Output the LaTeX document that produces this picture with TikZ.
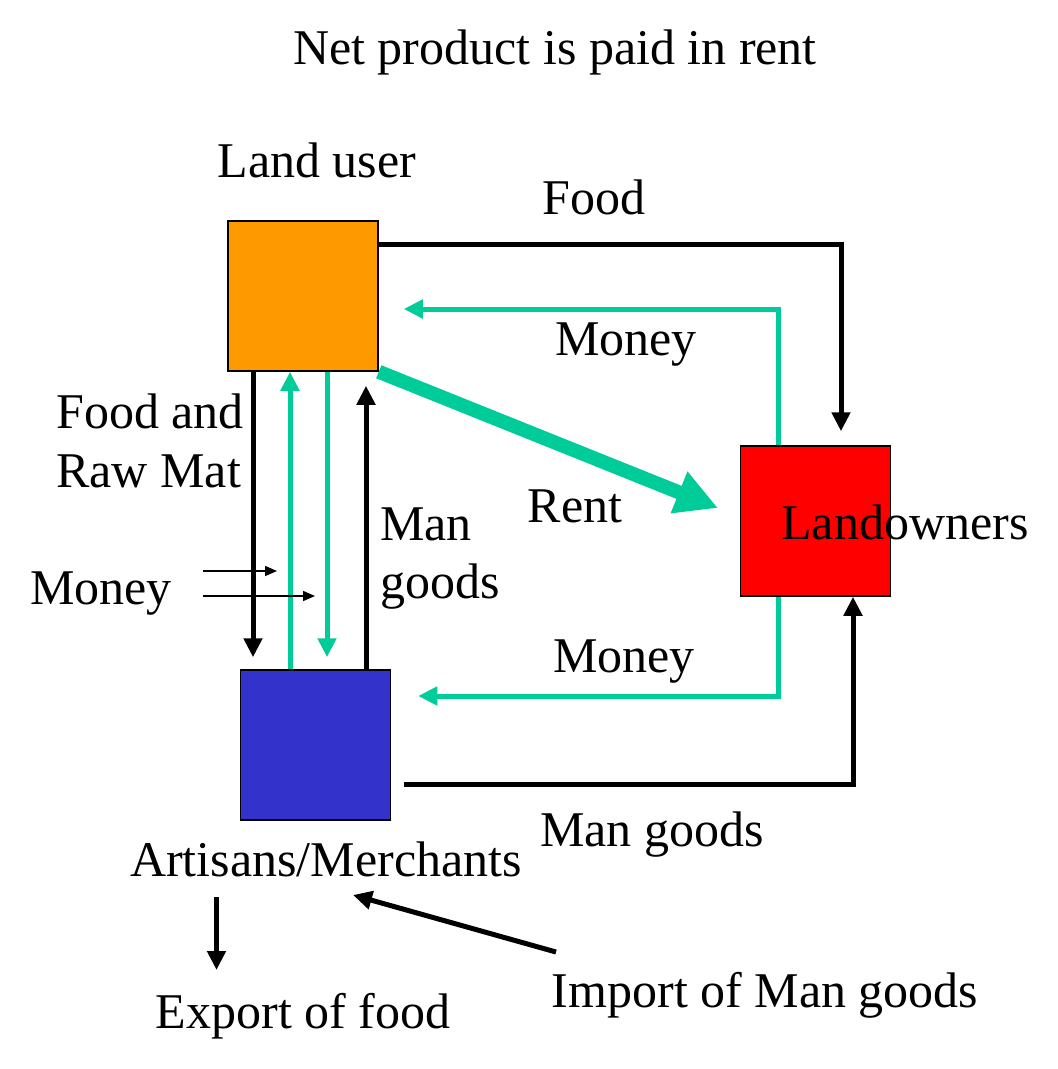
\documentclass[tikz,border=0pt]{standalone}
\usepackage{fontspec}
\setmainfont{Liberation Serif}
\usetikzlibrary{arrows.meta}
\definecolor{flowgreen}{RGB}{0,204,153}
\definecolor{boxorange}{RGB}{255,153,0}
\definecolor{boxred}{RGB}{255,0,0}
\definecolor{boxblue}{RGB}{51,51,204}
\begin{document}
\begin{tikzpicture}[x=1pt,y=-1pt,
  lbl/.style={font=\fontsize{50}{60}\selectfont, inner sep=0pt, anchor=base},
  sq/.style={draw=black, line width=1.5pt, minimum width=150pt, minimum height=150pt, inner sep=0pt},
  blk/.style={draw=black, line width=5pt, -{Triangle[width=18pt,length=19pt]}},
  grn/.style={draw=flowgreen, line width=5pt, -{Triangle[width=18pt,length=19pt]}},
  thin/.style={draw=black, line width=1.5pt, -{Triangle[width=10pt,length=12pt]}},
  rentarrow/.style={draw=flowgreen, line width=14pt, -{Triangle[width=42pt,length=42pt]}}
]
\useasboundingbox (0,0) rectangle (1058,1069);
\fill[white] (0,0) rectangle (1058,1069);

% boxes
\node[sq, fill=boxorange] (lu) at (303,296) {};
\node[sq, fill=boxred] (lo) at (815.5,521) {};
\node[sq, fill=boxblue] (am) at (315.5,745) {};

% texts
\node[lbl] (title) at (555,64) {Net product is paid in rent};
\node[lbl] (tlu) at (317,177) {Land user};
\node[lbl] (tfood) at (594,214) {Food};
\node[lbl] (tmoney1) at (626,355) {Money};
\node[lbl, anchor=base west] (tfr1) at (56,428) {Food and};
\node[lbl, anchor=base west] (tfr2) at (56,487) {Raw Mat};
\node[lbl] (trent) at (575,522) {Rent};
\node[lbl] (tlo) at (905,539) {Landowners};
\node[lbl, anchor=base west] (tman1) at (380,540) {Man};
\node[lbl, anchor=base west] (tman2) at (380,598) {goods};
\node[lbl] (tmoneyl) at (101,604) {Money};
\node[lbl] (tmoney2) at (624,672) {Money};
\node[lbl] (tmg) at (652,846) {Man goods};
\node[lbl] (tam) at (326,876) {Artisans/Merchants};
\node[lbl] (timp) at (765,1007) {Import of Man goods};
\node[lbl] (texp) at (303,1028) {Export of food};

% food to landowners
\draw[blk] (lu.east |- 0,244) -| ([yshift=14pt]lo.north -| 841,0);
% money landowners -> land user
\draw[grn] (lo.north -| 778,0) |- ([xshift=25pt]lu.east |- 0,309);
% rent
\draw[rentarrow] (lu.south east) -- (718,508);
% vertical flows
\draw[blk] (lu.south -| 253,0) -- ([yshift=12pt]am.north -| 253,0);
\draw[grn] (am.north -| 290,0) -- (lu.south -| 290,0);
\draw[grn] (lu.south -| 327,0) -- ([yshift=12pt]am.north -| 327,0);
\draw[blk] (am.north -| 366,0) -- ([yshift=-14pt]lu.south -| 366,0);
% small money arrows
\coordinate (m1) at (203,571);
\coordinate (m2) at (203,596);
\draw[thin] (m1) -- (277,571);
\draw[thin] (m2) -- (315,596);
% money landowners -> artisans
\draw[grn] (lo.south -| 778,0) |- ([xshift=27pt]am.east |- 0,696);
% man goods artisans -> landowners
\draw[blk] ([xshift=13pt]am.east |- 0,784) -| (lo.south -| 853,0);
% export
\draw[blk] (216.5,897) -- (216.5,970);
% import
\draw[blk] (556,952) -- (353,895);
\end{tikzpicture}
\end{document}
